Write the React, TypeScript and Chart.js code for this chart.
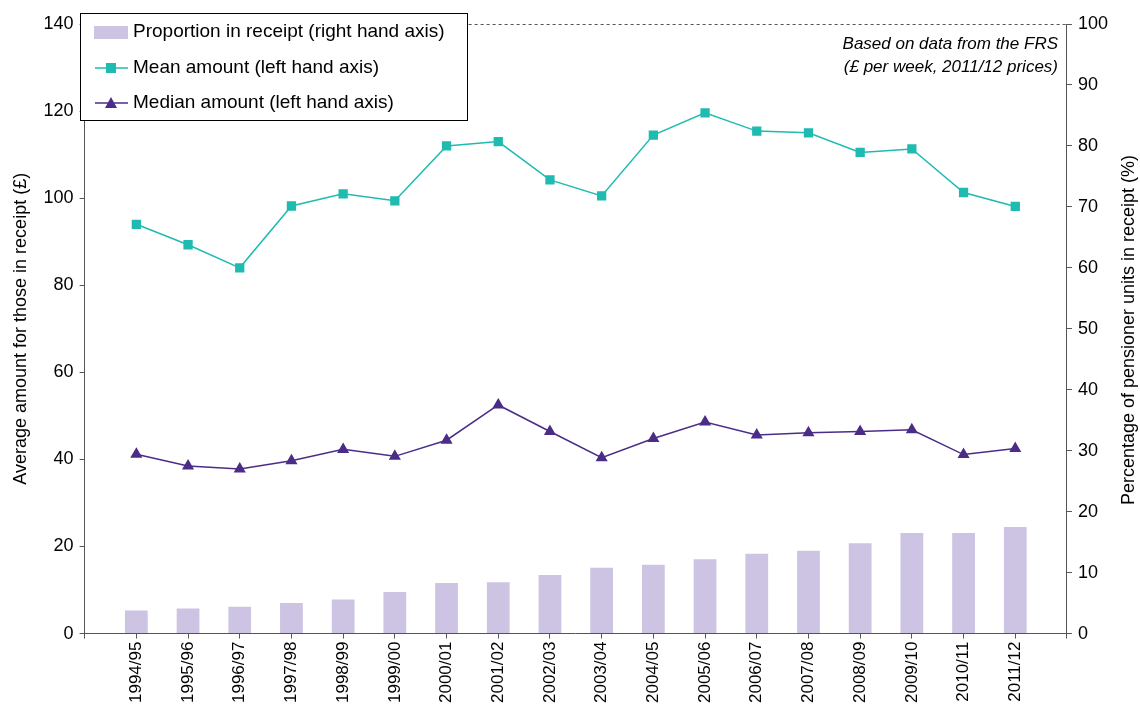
import React, { useEffect, useRef } from "react";
import { Chart, registerables } from "chart.js";
Chart.register(...registerables);

const years = ["", "1994/95","1995/96","1996/97","1997/98","1998/99","1999/00","2000/01","2001/02","2002/03","2003/04","2004/05","2005/06","2006/07","2007/08","2008/09","2009/10","2010/11","2011/12", ""];
const meanAmount = [null, 94, 89.3, 84, 98.2, 101, 99.4, 112, 113, 104.2, 100.5, 114.5, 119.6, 115.4, 115, 110.5, 111.3, 101.3, 98.1, null];
const medianAmount = [null, 41.2, 38.5, 37.8, 39.7, 42.3, 40.7, 44.4, 52.5, 46.4, 40.4, 44.8, 48.6, 45.6, 46.1, 46.4, 46.8, 41.1, 42.5, null];
const proportion = [null, 3.8, 4.1, 4.4, 5.0, 5.6, 6.8, 8.3, 8.4, 9.6, 10.8, 11.3, 12.2, 13.1, 13.6, 14.8, 16.5, 16.5, 17.5, null];

const FONT = "Arial, 'Liberation Sans', sans-serif";
const TEAL = "#1fbbb0";
const PURPLE = "#4b2d88";
const BAR = "#cdc3e2";
const AX = "#555";

const overlay = {
  id: "overlay",
  afterDraw(chart: any) {
    const { ctx, chartArea: a } = chart;
    ctx.save();
    ctx.strokeStyle = AX;
    ctx.lineWidth = 1;
    ctx.setLineDash([3, 3]);
    ctx.beginPath();
    ctx.moveTo(a.left, a.top + 0.5);
    ctx.lineTo(a.right, a.top + 0.5);
    ctx.stroke();
    ctx.setLineDash([]);
    const lx = 80, ly = 13, lw = 387, lh = 107;
    ctx.fillStyle = "#fff";
    ctx.fillRect(lx, ly, lw, lh);
    ctx.strokeStyle = "#000";
    ctx.strokeRect(lx + 0.5, ly + 0.5, lw, lh);
    ctx.font = "19px " + FONT;
    ctx.textBaseline = "middle";
    const rows = [32, 68, 103];
    ctx.fillStyle = BAR;
    ctx.fillRect(94, rows[0] - 6, 34, 13);
    ctx.strokeStyle = TEAL; ctx.lineWidth = 1.5;
    ctx.beginPath(); ctx.moveTo(95, rows[1]); ctx.lineTo(128, rows[1]); ctx.stroke();
    ctx.fillStyle = TEAL; ctx.fillRect(106, rows[1] - 5, 10, 10);
    ctx.strokeStyle = PURPLE;
    ctx.beginPath(); ctx.moveTo(95, rows[2]); ctx.lineTo(128, rows[2]); ctx.stroke();
    ctx.fillStyle = PURPLE;
    ctx.beginPath(); ctx.moveTo(111, rows[2] - 6); ctx.lineTo(117, rows[2] + 5); ctx.lineTo(105, rows[2] + 5); ctx.closePath(); ctx.fill();
    ctx.fillStyle = "#000";
    ctx.fillText("Proportion in receipt (right hand axis)", 133, rows[0]);
    ctx.fillText("Mean amount (left hand axis)", 133, rows[1]);
    ctx.fillText("Median amount (left hand axis)", 133, rows[2]);
    ctx.font = "italic 17px " + FONT;
    ctx.textAlign = "right";
    ctx.fillText("Based on data from the FRS", 1058, 44);
    ctx.fillText("(£ per week, 2011/12 prices)", 1058, 67);
    ctx.font = "18px " + FONT;
    ctx.textAlign = "center";
    ctx.translate(1129, 330);
    ctx.rotate(-Math.PI / 2);
    ctx.fillText("Percentage of pensioner units in receipt (%)", 0, 0);
    ctx.restore();
  },
};

export default function App() {
  const ref = useRef<HTMLCanvasElement>(null);
  useEffect(() => {
    const chart = new Chart(ref.current!, {
      type: "bar",
      data: {
        labels: years,
        datasets: [
          { type: "line", label: "Mean amount (left hand axis)", data: meanAmount, yAxisID: "y", borderColor: TEAL, backgroundColor: TEAL, borderWidth: 1.5, pointStyle: "rect", pointRadius: 5.5, order: 1 },
          { type: "line", label: "Median amount (left hand axis)", data: medianAmount, yAxisID: "y", borderColor: PURPLE, backgroundColor: PURPLE, borderWidth: 1.5, pointStyle: "triangle", pointRadius: 5.5, order: 2 },
          { type: "bar", label: "Proportion in receipt (right hand axis)", data: proportion, yAxisID: "y1", backgroundColor: BAR, barPercentage: 0.44, categoryPercentage: 1, order: 3 },
        ],
      },
      options: {
        animation: false,
        responsive: false,
        layout: { padding: { top: 24, right: 26, left: 6, bottom: 7 } },
        plugins: { legend: { display: false }, tooltip: { enabled: false } },
        scales: {
          x: {
            offset: false,
            grid: { display: true, offset: false, drawOnChartArea: false, tickLength: 5, color: AX },
            border: { color: AX, dash: [3, 3] },
            ticks: { autoSkip: false, minRotation: 90, maxRotation: 90, color: "#000", font: { family: FONT, size: 17 } },
          },
          y: {
            position: "left", min: 0, max: 140,
            ticks: { stepSize: 20, color: "#000", padding: 6, font: { family: FONT, size: 18 } },
            grid: { display: true, drawOnChartArea: false, tickLength: 5, color: AX },
            border: { color: AX, dash: [3, 3] },
            title: { display: true, text: "Average amount for those in receipt (£)", color: "#000", padding: { top: 4, bottom: 6 }, font: { family: FONT, size: 18 } },
          },
          y1: {
            position: "right", min: 0, max: 100,
            ticks: { stepSize: 10, color: "#000", padding: 6, font: { family: FONT, size: 18 } },
            grid: { display: true, drawOnChartArea: false, tickLength: 5, color: AX },
            border: { color: AX, dash: [3, 3] },
          },
        },
      },
      plugins: [overlay],
    });
    return () => chart.destroy();
  }, []);
  return (
    <div style={{ position: "absolute", left: 0, top: 0, width: 1140, height: 713, background: "#fff" }}>
      <canvas ref={ref} width={1140} height={713} />
    </div>
  );
}
